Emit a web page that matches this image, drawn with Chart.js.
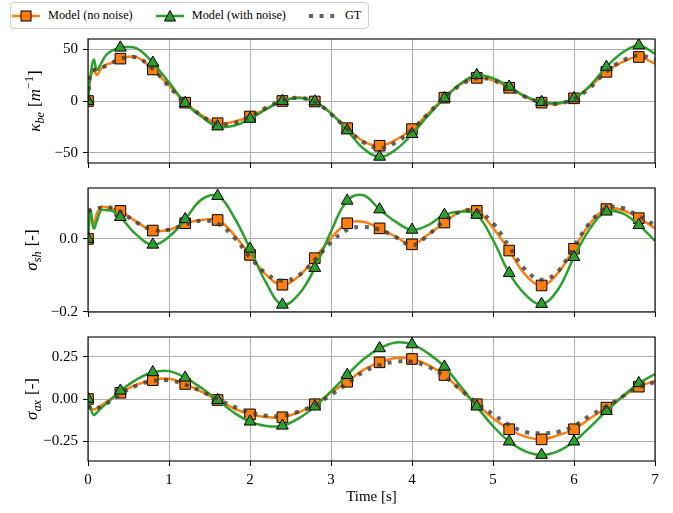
<!DOCTYPE html>
<html>
<head>
<meta charset="utf-8">
<script src="https://cdn.jsdelivr.net/npm/chart.js@4.4.0/dist/chart.umd.min.js"></script>
<style>
  body { margin: 0; background: #fff; }
  #wrap { position: relative; width: 673px; height: 513px; font-family: "Liberation Serif", serif; color: #000; }
  #wrap canvas { position: absolute; left: 0; top: 0; }
  .ylab { position: absolute; width: 160px; height: 20px; line-height: 20px; text-align: center; font-family: "Liberation Serif", serif; font-size: 17px; transform: rotate(-90deg); white-space: nowrap; }
  .ylab sub, .ylab sup { font-size: 72%; line-height: 0; }
  .ylab .gap { margin-left: 5px; }
  #legend { position: absolute; left: 10px; top: 2px; height: 27px; box-sizing: border-box; border: 1px solid #d0d0d0; border-radius: 4px; background: #fff; display: flex; align-items: center; padding: 0 7px 0 1px; font-family: "Liberation Serif", serif; font-size: 12.3px; }
  #legend .item { display: flex; align-items: center; margin-right: 23px; }
  #legend .item:last-child { margin-right: 0; }
  #legend svg { margin-right: 8px; }
</style>
</head>
<body>
<div id="wrap">
  <canvas id="c1" width="673" height="513"></canvas>
  <canvas id="c2" width="673" height="513"></canvas>
  <canvas id="c3" width="673" height="513"></canvas>
  <div class="ylab" style="left:-45px; top:91px"><i>κ</i><sub><i>be</i></sub><span class="gap">[<i>m</i><sup>−1</sup>]</span></div>
  <div class="ylab" style="left:-48px; top:240px"><i>σ</i><sub><i>sh</i></sub><span class="gap">[-]</span></div>
  <div class="ylab" style="left:-48px; top:389px"><i>σ</i><sub><i>ax</i></sub><span class="gap">[-]</span></div>
  <div id="legend"></div>
</div>
<script>
// sample times [s] and where the markers sit
const times = [0, 0.03, 0.07, 0.11, 0.16, 0.22, 0.3, 0.4, 0.6, 0.8, 1.0, 1.2, 1.4, 1.6, 1.8, 2.0, 2.2, 2.4, 2.6, 2.8,
  3.0, 3.2, 3.4, 3.6, 3.8, 4.0, 4.2, 4.4, 4.6, 4.8, 5.0, 5.2, 5.4, 5.6, 5.8, 6.0, 6.2, 6.4, 6.6, 6.8, 7.0];
const markerTimes = [0, 0.4, 0.8, 1.2, 1.6, 2.0, 2.4, 2.8, 3.2, 3.6, 4.0, 4.4, 4.8, 5.2, 5.6, 6.0, 6.4, 6.8];
const xTicks = [0, 1, 2, 3, 4, 5, 6, 7];
const xTickLabels = ['0', '1', '2', '3', '4', '5', '6', '7'];

// kappa_be [1/m]
const kbeNoNoise = [0, 22, 30, 25, 31, 35, 37, 41, 42.5, 30.5, 15, -1.6, -13.5, -21.5, -20, -15, -7.5, 0, 3.5, -0.5,
  -12, -26.3, -39, -43.3, -37.5, -27.2, -12, 3.2, 16, 22.4, 20, 12.8, 4, -1.6, -2.9, 2.6, 14, 28.2, 37.8, 42.6, 36];
const kbeNoise = [0, 24, 40, 30, 36, 44, 49, 51.6, 51, 37, 18, -2, -15, -24.7, -24, -17.3, -8, 0, 3, -0.5,
  -12, -28.5, -46, -54, -47, -32, -14, 2.6, 17, 25, 22, 13.8, 4.5, -1, -2, 2.6, 15, 33, 47, 53.8, 45.8];
const kbeGT = [0, 28, 30, 31, 32, 34, 37, 41, 42, 31, 14, -2, -14, -22, -21.5, -15, -6.5, 0.5, 3, -1,
  -12.5, -27, -40, -45.5, -40, -28, -12, 3, 15.5, 22, 20, 12, 4, -1.5, -2.5, 2, 13, 28.5, 39, 44, 40];
const kbeTicks = [-50, 0, 50];
const kbeTickLabels = ['−50', '0', '50'];

// sigma_sh [-]
const shNoNoise = [0, 0.065, 0.043, 0.07, 0.088, 0.087, 0.083, 0.077, 0.047, 0.023, 0.025, 0.043, 0.052, 0.052, 0.012,
  -0.044, -0.099, -0.126, -0.103, -0.053, 0.002, 0.043, 0.047, 0.029, 0.006, -0.015, 0.012, 0.045, 0.075, 0.077,
  0.03, -0.032, -0.099, -0.128, -0.094, -0.027, 0.043, 0.082, 0.079, 0.057, 0.029];
const shNoise = [0, 0.079, 0.029, 0.05, 0.079, 0.079, 0.077, 0.06, 0.011, -0.016, 0.006, 0.054, 0.108, 0.118, 0.061,
  -0.027, -0.121, -0.181, -0.153, -0.08, 0.02, 0.105, 0.12, 0.081, 0.047, 0.025, 0.038, 0.066, 0.075, 0.066,
  -0.003, -0.094, -0.153, -0.179, -0.14, -0.05, 0.029, 0.075, 0.07, 0.038, -0.005];
const shGT = [0.075, 0.08, 0.082, 0.084, 0.086, 0.087, 0.085, 0.075, 0.045, 0.025, 0.025, 0.04, 0.05, 0.042, 0.005,
  -0.05, -0.095, -0.115, -0.1, -0.058, -0.01, 0.025, 0.033, 0.025, 0.005, -0.018, 0.011, 0.05, 0.075, 0.077,
  0.043, -0.021, -0.085, -0.112, -0.09, -0.02, 0.045, 0.085, 0.085, 0.063, 0.038];
const shTicks = [-0.2, 0.0];
const shTickLabels = ['−0.2', '0.0'];

// sigma_ax [-]
const axNoNoise = [0, -0.05, -0.062, -0.055, -0.04, -0.02, 0.005, 0.037, 0.085, 0.112, 0.12, 0.089, 0.043, -0.006, -0.055,
  -0.091, -0.107, -0.108, -0.079, -0.031, 0.038, 0.102, 0.172, 0.217, 0.243, 0.237, 0.201, 0.142, 0.053, -0.031,
  -0.114, -0.179, -0.223, -0.239, -0.215, -0.179, -0.114, -0.051, 0.014, 0.073, 0.107];
const axNoise = [0, -0.05, -0.095, -0.08, -0.055, -0.03, 0.005, 0.049, 0.115, 0.158, 0.165, 0.126, 0.065, -0.006, -0.08,
  -0.134, -0.16, -0.158, -0.115, -0.045, 0.045, 0.142, 0.235, 0.3, 0.335, 0.323, 0.27, 0.191, 0.075, -0.045,
  -0.16, -0.252, -0.31, -0.331, -0.31, -0.252, -0.165, -0.071, 0.015, 0.093, 0.148];
const axGT = [-0.04, -0.055, -0.062, -0.055, -0.045, -0.03, -0.005, 0.03, 0.08, 0.107, 0.11, 0.085, 0.045, 0.0, -0.045,
  -0.079, -0.098, -0.099, -0.075, -0.035, 0.025, 0.09, 0.16, 0.2, 0.221, 0.221, 0.19, 0.135, 0.055, -0.026,
  -0.09, -0.154, -0.195, -0.203, -0.195, -0.16, -0.097, -0.045, 0.015, 0.07, 0.1];
const axTicks = [-0.25, 0, 0.25];
const axTickLabels = ['−0.25', '0.00', '0.25'];

const orange = '#ff7f0e';
const green = '#2ca02c';
const gray = 'rgba(60,60,60,0.8)';

Chart.defaults.font.family = '"Liberation Serif", serif';
Chart.defaults.font.size = 15;
Chart.defaults.color = '#000';

// black box round the plot area, like matplotlib spines
const frame = {
  id: 'frame',
  afterDatasetsDraw(chart) {
    const a = chart.chartArea;
    const ctx = chart.ctx;
    ctx.save();
    ctx.strokeStyle = '#000';
    ctx.lineWidth = 1.1;
    ctx.strokeRect(a.left, a.top, a.right - a.left, a.bottom - a.top);
    ctx.restore();
  }
};

function isMarker(t) {
  return markerTimes.some(m => Math.abs(m - t) < 1e-9);
}

function series(label, vals, color, style, r, width, order, dash) {
  return {
    label: label,
    data: times.map((t, i) => ({ x: t, y: vals[i] })),
    borderColor: color,
    backgroundColor: color,
    borderWidth: width,
    borderDash: dash || [],
    borderCapStyle: 'butt',
    tension: 0.4,
    pointStyle: style,
    pointRadius: ctx => (r && isMarker(times[ctx.dataIndex]) ? r : 0),
    pointHoverRadius: 0,
    pointBackgroundColor: color,
    pointBorderColor: '#000',
    pointBorderWidth: 1,
    order: order
  };
}

const hidden = { display: false };
const gridOpts = { color: '#b0b0b0', lineWidth: 1, tickColor: '#000', tickLength: 5, tickWidth: 1 };

// box = pixel sizes of the layout boxes around the plot area
function makePanel(id, vals, yMin, yMax, yTicks, yTickLabels, box, showTime) {
  return new Chart(document.getElementById(id), {
    type: 'line',
    data: {
      datasets: [
        series('Model (no noise)', vals[0], orange, 'rect', 7.5, 2.5, 2),
        series('Model (with noise)', vals[1], green, 'triangle', 6.8, 2.5, 1),
        series('GT', vals[2], gray, 'circle', 0, 4, 0, [4, 6.6])
      ]
    },
    options: {
      animation: false,
      responsive: false,
      devicePixelRatio: 1,
      events: [],
      layout: { padding: 0 },
      plugins: { legend: hidden, tooltip: { enabled: false } },
      scales: {
        x: {
          type: 'linear', min: 0, max: 7,
          afterBuildTicks: s => { s.ticks = xTicks.map(v => ({ value: v })); },
          afterFit: s => { s.height = box.bottom; },
          grid: gridOpts,
          border: hidden,
          ticks: { display: showTime, padding: 5, maxRotation: 0, autoSkip: false, callback: (v, i) => xTickLabels[i] },
          title: { display: showTime, text: 'Time [s]', font: { size: 15 }, padding: { top: 0, bottom: 7 } }
        },
        xTop: {
          type: 'linear', position: 'top',
          afterFit: s => { s.height = box.top; },
          grid: { display: false, drawTicks: false }, border: hidden, ticks: hidden
        },
        y: {
          type: 'linear', min: yMin, max: yMax,
          afterBuildTicks: s => { s.ticks = yTicks.map(v => ({ value: v })); },
          afterFit: s => { s.width = box.left; },
          grid: gridOpts,
          border: hidden,
          ticks: { padding: 5, callback: (v, i) => yTickLabels[i] }
        },
        yRight: {
          type: 'linear', position: 'right',
          afterFit: s => { s.width = box.right; },
          grid: { display: false, drawTicks: false }, border: hidden, ticks: hidden
        }
      }
    },
    plugins: [frame]
  });
}

const chart1 = makePanel('c1', [kbeNoNoise, kbeNoise, kbeGT], -60, 60, kbeTicks, kbeTickLabels,
  { left: 88, right: 18, top: 39, bottom: 350 }, false);
makePanel('c2', [shNoNoise, shNoise, shGT], -0.201, 0.14, shTicks, shTickLabels,
  { left: 88, right: 18, top: 188, bottom: 201 }, false);
makePanel('c3', [axNoNoise, axNoise, axGT], -0.367, 0.367, axTicks, axTickLabels,
  { left: 88, right: 18, top: 337, bottom: 52 }, true);

// legend built from the first panel's datasets
function legendIcon(ds) {
  let svg = '<svg width="28" height="16" viewBox="0 0 28 16">';
  const dash = ds.borderDash.length ? ` stroke-dasharray="${ds.borderDash.join(' ')}"` : '';
  svg += `<line x1="0" y1="8" x2="28" y2="8" stroke="${ds.borderColor}" stroke-width="${ds.borderWidth}"${dash}/>`;
  if (ds.pointStyle === 'rect') {
    svg += `<rect x="9" y="3" width="10" height="10" fill="${ds.pointBackgroundColor}" stroke="#000" stroke-width="1"/>`;
  } else if (ds.pointStyle === 'triangle') {
    svg += `<polygon points="14,2.5 19.5,13 8.5,13" fill="${ds.pointBackgroundColor}" stroke="#000" stroke-width="1"/>`;
  }
  return svg + '</svg>';
}

const legend = document.getElementById('legend');
chart1.data.datasets.forEach(ds => {
  const item = document.createElement('div');
  item.className = 'item';
  item.innerHTML = legendIcon(ds) + '<span>' + ds.label + '</span>';
  legend.appendChild(item);
});
</script>
</body>
</html>
